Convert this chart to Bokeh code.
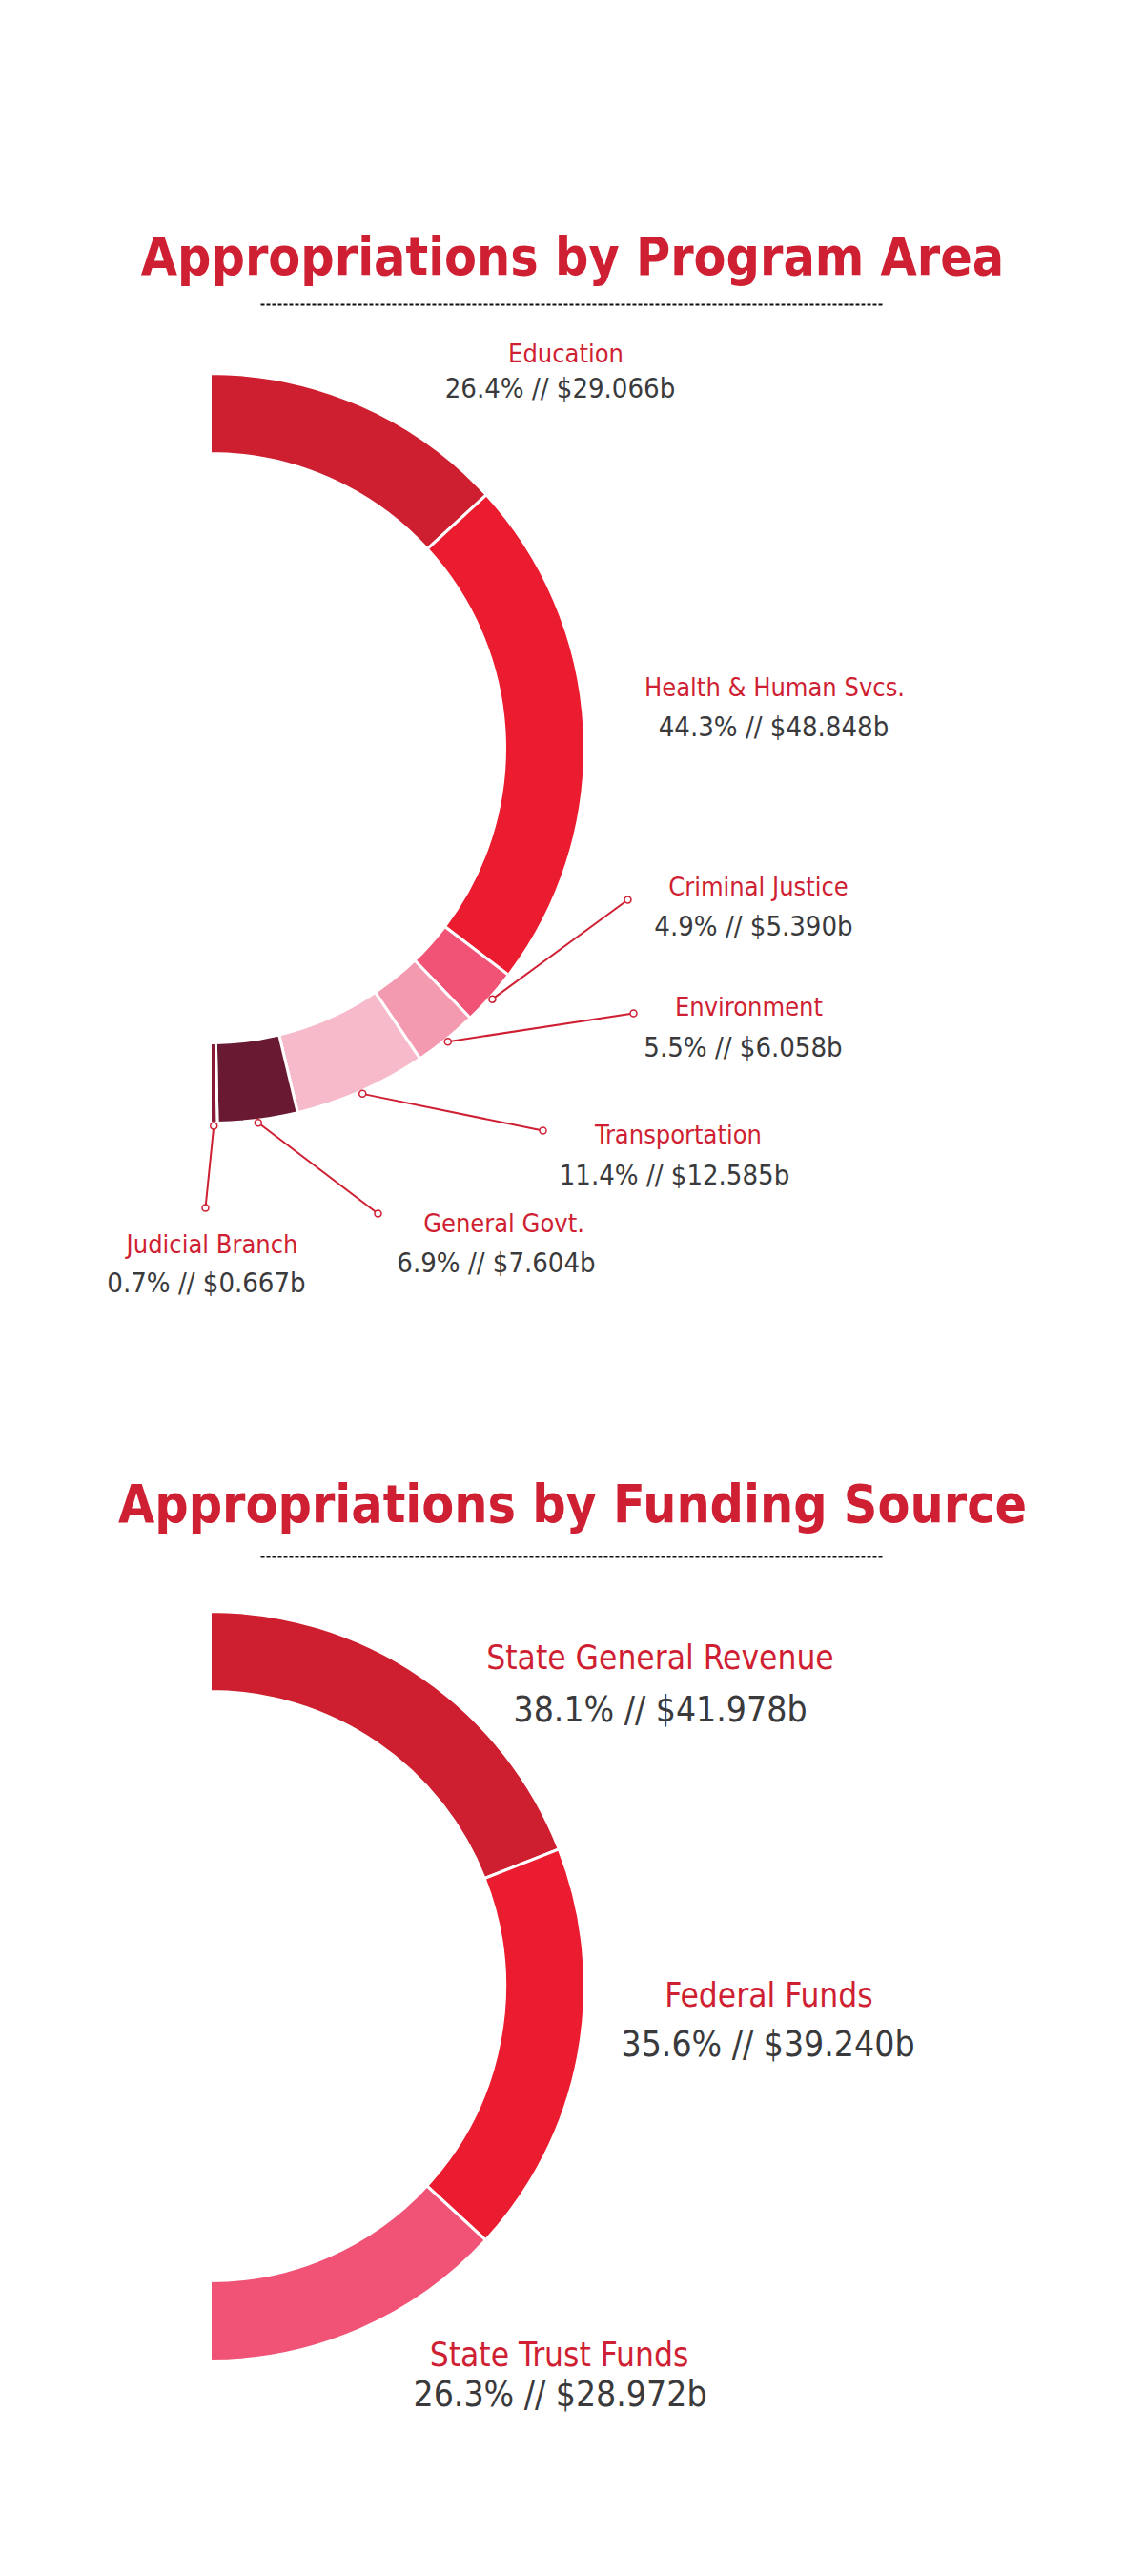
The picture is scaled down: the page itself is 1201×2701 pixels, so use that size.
import numpy as np
from bokeh.plotting import figure
from bokeh.models import Range1d
from bokeh.core.properties import value
from bokeh.embed import file_html
from bokeh.resources import INLINE

# ---------------- data ----------------
program_areas = ["Education", "Health & Human Svcs.", "Criminal Justice", "Environment",
                 "Transportation", "General Govt.", "Judicial Branch"]
program_pct = [26.4, 44.3, 4.9, 5.5, 11.4, 6.9, 0.7]
program_amt = [29.066, 48.848, 5.390, 6.058, 12.585, 7.604, 0.667]

funding_sources = ["State General Revenue", "Federal Funds", "State Trust Funds"]
funding_pct = [38.1, 35.6, 26.3]
funding_amt = [41.978, 39.240, 28.972]

chart_titles = ["Appropriations by Program Area", "Appropriations by Funding Source"]

# ---------------- styles / layout ----------------
program_colors = ["#CE1F30", "#EB1C2F", "#F05376", "#F49AB0", "#F7BACB", "#6A1932", "#8A1B37"]
funding_colors = ["#CE1F30", "#EB1C2F", "#F05376"]
RED = "#CF1F33"
GREY = "#3A3A3C"
NARROW = "'DejaVu Sans Condensed', 'Liberation Sans Narrow', sans-serif"

W, H = 1185, 2685
# page coordinates: x = screen x, y = -screen y
p = figure(width=W, height=H, output_backend="svg", toolbar_location=None,
           x_range=Range1d(0, W), y_range=Range1d(-H, 0),
           min_border=0, outline_line_color=None)
p.axis.visible = False
p.grid.visible = False
p.background_fill_color = "white"
p.border_fill_color = "white"

R_IN, R_OUT = 309, 393
centers = [(220, 784), (220, 2082)]
title_pos = [(600, 268), (600, 1576)]
rule_y = [319, 1632]
rule_x = (273, 927)

# label anchors (screen coords: center x, middle y) for name and value lines
prog_name_pos = [(593, 370), (812, 720), (795, 929), (785, 1055), (711, 1189), (528, 1282), (222, 1304)]
prog_val_pos = [(587, 406), (811, 761), (790, 970), (779, 1097), (707, 1231), (520, 1323), (216, 1344)]
# leader line ends (None = no leader)
prog_leader_end = [None, None, (658, 943), (664, 1062), (569, 1185), (396, 1272), (215, 1266)]

fund_name_pos = [(692, 1737), (806, 2091), (586, 2468)]
fund_val_pos = [(692, 1792), (805, 2143), (587, 2510)]


def donut(center, amounts, colors):
    amt = np.array(amounts, dtype=float)
    frac = amt / amt.sum()
    cum_end = np.cumsum(frac)
    cum_start = cum_end - frac
    start = np.pi / 2 - cum_start * np.pi
    end = np.pi / 2 - cum_end * np.pi
    cx, cy = center
    p.annular_wedge(x=[cx] * len(amt), y=[-cy] * len(amt), inner_radius=R_IN, outer_radius=R_OUT,
                    start_angle=list(start), end_angle=list(end), direction="clock",
                    fill_color=colors, line_color="white", line_width=3)
    return (start + end) / 2


def labels(names, pcts, amts, name_pos, val_pos, size_name, size_val):
    p.text(x=[q[0] for q in name_pos], y=[-q[1] for q in name_pos], text=names,
           text_align="center", text_baseline="middle", text_font=value(NARROW),
           text_font_size=size_name, text_color=RED)
    vals = [f"{pc:.1f}% // ${a:.3f}b" for pc, a in zip(pcts, amts)]
    p.text(x=[q[0] for q in val_pos], y=[-q[1] for q in val_pos], text=vals,
           text_align="center", text_baseline="middle", text_font=value(NARROW),
           text_font_size=size_val, text_color=GREY)


# titles and dotted rules
for t, (tx, ty), ry in zip(chart_titles, title_pos, rule_y):
    p.text(x=[tx], y=[-ty], text=[t], text_align="center", text_baseline="middle",
           text_font=value(NARROW), text_font_style="bold", text_font_size="55px", text_color=RED)
    p.line(x=list(rule_x), y=[-ry, -ry], line_color="#111111", line_width=2, line_dash="4 2")

# chart 1
mid1 = donut(centers[0], program_amt, program_colors)
cx, cy = centers[0]
x0s, y0s, x1s, y1s = [], [], [], []
for a, e in zip(mid1, prog_leader_end):
    if e is None:
        continue
    x0s.append(cx + (R_OUT + 3) * np.cos(a))
    y0s.append(-cy + (R_OUT + 3) * np.sin(a))
    x1s.append(e[0])
    y1s.append(-e[1])
p.segment(x0=x0s, y0=y0s, x1=x1s, y1=y1s, line_color=RED, line_width=2)
p.scatter(x=x0s + x1s, y=y0s + y1s, size=7, marker="circle", fill_color="white",
          line_color=RED, line_width=1.5)
labels(program_areas, program_pct, program_amt, prog_name_pos, prog_val_pos, "27px", "29px")

# chart 2
donut(centers[1], funding_amt, funding_colors)
labels(funding_sources, funding_pct, funding_amt, fund_name_pos, fund_val_pos, "35px", "37px")

open("out.html", "w").write(file_html(p, INLINE))
